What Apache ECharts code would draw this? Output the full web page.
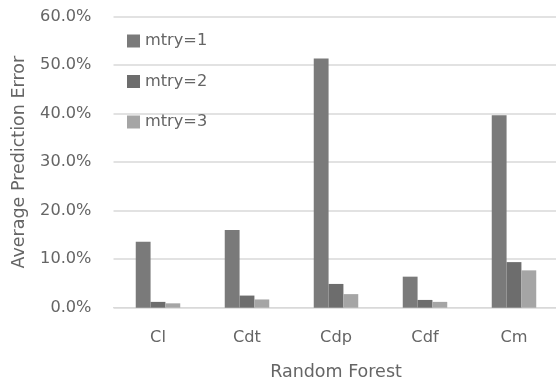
<!DOCTYPE html>
<html>
<head>
<meta charset="utf-8">
<script src="https://cdn.jsdelivr.net/npm/echarts@6/dist/echarts.min.js"></script>
<style>
  html, body { margin: 0; padding: 0; background: #fff; }
  #chart { width: 556px; height: 383px; }
</style>
</head>
<body>
<div id="chart"></div>
<script>
// Average prediction error of random forest models per feature set
const categories = ['Cl', 'Cdt', 'Cdp', 'Cdf', 'Cm'];
const seriesNames = ['mtry=1', 'mtry=2', 'mtry=3'];
const mtry1 = [0.136, 0.160, 0.514, 0.064, 0.397];
const mtry2 = [0.012, 0.025, 0.049, 0.016, 0.094];
const mtry3 = [0.009, 0.017, 0.028, 0.012, 0.077];
const yTicks = { min: 0, max: 0.6, interval: 0.1 };

const colors = ['#7a7a7a', '#6d6d6d', '#a5a5a5'];
const font = 'DejaVu Sans';
const textColor = '#656565';

const chart = echarts.init(document.getElementById('chart'), null, { renderer: 'canvas' });

chart.setOption({
  animation: false,
  backgroundColor: '#ffffff',
  grid: {
    left: 113.5, right: -2.5, top: 16.7, bottom: 75.3,
    containLabel: false,
    outerBoundsMode: 'none'
  },
  legend: {
    orient: 'vertical',
    left: 122,
    top: 28,
    itemWidth: 13,
    itemHeight: 13,
    itemGap: 24.5,
    icon: 'rect',
    textStyle: { fontFamily: font, fontSize: 16.2, color: textColor },
    data: seriesNames
  },
  xAxis: {
    type: 'category',
    data: categories,
    name: 'Random Forest',
    nameLocation: 'middle',
    nameGap: 56,
    nameTextStyle: { fontFamily: font, fontSize: 17.5, color: textColor },
    axisLine: { lineStyle: { color: '#d9d9d9', width: 1 } },
    axisTick: { show: false },
    axisLabel: { margin: 22, fontFamily: font, fontSize: 16.2, color: textColor }
  },
  yAxis: {
    type: 'value',
    min: yTicks.min,
    max: yTicks.max,
    interval: yTicks.interval,
    name: 'Average Prediction Error',
    nameLocation: 'middle',
    nameGap: 85,
    nameTextStyle: { fontFamily: font, fontSize: 17.5, color: textColor },
    axisLine: { show: false },
    axisTick: { show: false },
    splitLine: { lineStyle: { color: '#d9d9d9', width: 1.5 } },
    axisLabel: {
      margin: 22,
      fontFamily: font,
      fontSize: 16.2,
      color: textColor,
      formatter: v => (v * 100).toFixed(1) + '%'
    }
  },
  series: [mtry1, mtry2, mtry3].map((d, i) => ({
    name: seriesNames[i],
    type: 'bar',
    data: d,
    barGap: '0%',
    barCategoryGap: '50%',
    itemStyle: { color: colors[i] }
  }))
});
</script>
</body>
</html>
